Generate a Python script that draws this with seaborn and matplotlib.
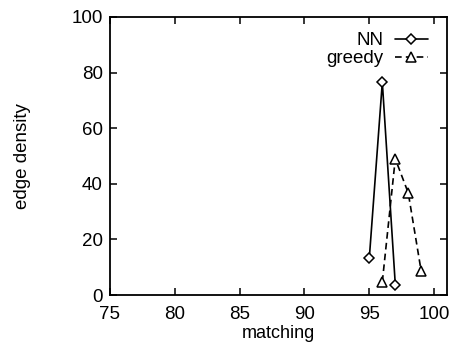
import matplotlib
matplotlib.use("Agg")
import matplotlib.pyplot as plt
import seaborn as sns
import pandas as pd

# values
nn_x = [95, 96, 97]
nn_y = [13.5, 76.5, 3.8]
greedy_x = [96, 97, 98, 99]
greedy_y = [4.8, 49, 36.7, 8.5]

x_ticks = [75, 80, 85, 90, 95, 100]
y_ticks = [0, 20, 40, 60, 80, 100]

sns.set_style("ticks")
plt.rcParams['font.family'] = ['Liberation Sans', 'DejaVu Sans']
plt.rcParams['xtick.direction'] = 'in'
plt.rcParams['ytick.direction'] = 'in'
plt.rcParams['text.color'] = 'black'
plt.rcParams['axes.labelcolor'] = 'black'
plt.rcParams['xtick.labelcolor'] = 'black'
plt.rcParams['ytick.labelcolor'] = 'black'

fs = 13.5

df_nn = pd.DataFrame({'matching': nn_x, 'density': nn_y})
df_gr = pd.DataFrame({'matching': greedy_x, 'density': greedy_y})

fig = plt.figure(figsize=(4.54, 3.44), dpi=100)
ax = fig.add_axes([0.242, 0.142, 0.743, 0.809])

sns.lineplot(data=df_nn, x='matching', y='density', ax=ax, color='black',
             marker='D', markersize=5.5, markerfacecolor='white', markeredgecolor='black',
             markeredgewidth=1.1, linewidth=1.2, label='NN')
sns.lineplot(data=df_gr, x='matching', y='density', ax=ax, color='black',
             marker='^', markersize=6.5, markerfacecolor='white', markeredgecolor='black',
             markeredgewidth=1.1, linewidth=1.2, linestyle=(0, (4, 2.5)), label='greedy')

ax.set_xlim(75, 101)
ax.set_ylim(0, 100)
ax.set_xticks(x_ticks)
ax.set_yticks(y_ticks)
ax.tick_params(top=True, right=True, length=5, width=1.1, labelsize=fs,
               color='black')
ax.tick_params(axis='x', pad=8)
ax.tick_params(axis='y', pad=5)
for s in ax.spines.values():
    s.set_linewidth(1.3)
    s.set_color('black')

ax.set_xlabel('matching', fontsize=13, labelpad=1)
ax.set_ylabel('edge density', fontsize=fs, labelpad=29)

leg = ax.legend(loc='upper right', bbox_to_anchor=(0.944, 0.945), frameon=False,
                markerfirst=False, fontsize=fs, handlelength=1.8,
                handletextpad=0.6, labelspacing=0.05, borderaxespad=0, borderpad=0)
leg._legend_box.align = 'right'

fig.savefig('out.png', dpi=100)
